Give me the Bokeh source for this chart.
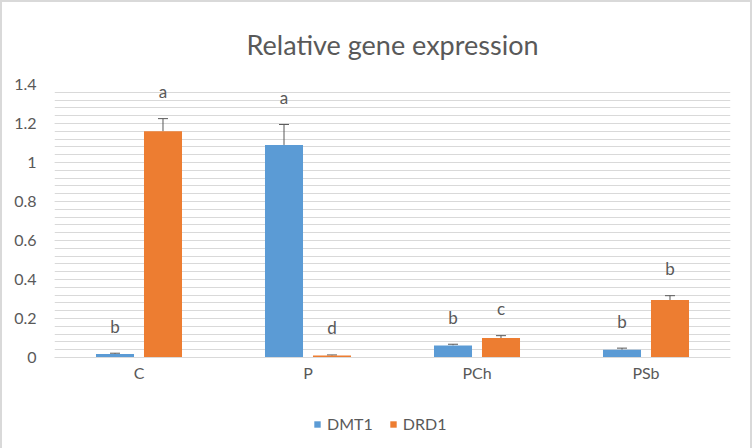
from bokeh.plotting import figure
from bokeh.layouts import column
from bokeh.models import (FactorRange, Whisker, ColumnDataSource, LabelSet,
                          Legend, LegendItem, FixedTicker, NumeralTickFormatter, Range1d)
from bokeh.transform import dodge
from bokeh.core.properties import value
from bokeh.embed import file_html
from bokeh.resources import INLINE

categories = ["C", "P", "PCh", "PSb"]
dmt1 = [0.018, 1.09, 0.062, 0.040]
dmt1_err = [0.004, 0.105, 0.006, 0.008]
dmt1_letters = ["b", "a", "b", "b"]
drd1 = [1.16, 0.010, 0.100, 0.295]
drd1_err = [0.065, 0.003, 0.012, 0.022]
drd1_letters = ["a", "d", "c", "b"]
y_ticks = [0, 0.2, 0.4, 0.6, 0.8, 1.0, 1.2, 1.4]
y_minor = [round(i * 0.04, 2) for i in range(36)]

FONT = "Lato"
GRAY = "#595959"
GRID = "#d9d9d9"
BLUE = "#5B9BD5"
ORANGE = "#ED7D31"

src = ColumnDataSource(dict(
    cat=categories,
    dmt1=dmt1, dmt1_top=[v + e for v, e in zip(dmt1, dmt1_err)], dmt1_lab=dmt1_letters,
    drd1=drd1, drd1_top=[v + e for v, e in zip(drd1, drd1_err)], drd1_lab=drd1_letters,
))

p = figure(frame_width=676, frame_height=273, x_range=FactorRange(*categories),
           y_range=Range1d(0, 1.4), output_backend="svg", toolbar_location=None,
           title="Relative gene expression",
           min_border_left=52, min_border_right=20, min_border_top=71, min_border_bottom=28)
p.outline_line_color = None
p.background_fill_color = "white"
p.border_fill_color = "white"
p.title.align = "center"
p.title.offset = -16
p.title.text_font = FONT
p.title.text_font_size = "27px"
p.title.text_font_style = "normal"
p.title.text_color = GRAY
p.title.standoff = 47

off = 0.142
bw = 0.225
p.vbar(x=dodge("cat", -off, range=p.x_range), top="dmt1", width=bw, source=src,
       fill_color=BLUE, line_color=None)
p.vbar(x=dodge("cat", off, range=p.x_range), top="drd1", width=bw, source=src,
       fill_color=ORANGE, line_color=None)

for key, o in (("dmt1", -off), ("drd1", off)):
    w = Whisker(base=dodge("cat", o, range=p.x_range), lower=key, upper=key + "_top",
                source=src, dimension="height", line_color=GRAY, line_width=1)
    w.lower_head = None
    w.upper_head.line_color = GRAY
    w.upper_head.size = 10
    p.add_layout(w)
    ls = LabelSet(x=dodge("cat", o, range=p.x_range), y=key + "_top", text=key + "_lab",
                  source=src, y_offset=27, text_align="center", text_baseline="middle",
                  text_font=value(FONT), text_font_size="17px", text_color=GRAY)
    p.add_layout(ls)

p.yaxis.ticker = FixedTicker(ticks=y_ticks, minor_ticks=y_minor)
p.yaxis.formatter = NumeralTickFormatter(format="0.[0]")
p.yaxis.axis_line_color = None
p.yaxis.major_tick_line_color = None
p.yaxis.minor_tick_line_color = None
p.yaxis.major_tick_out = 0
p.yaxis.major_label_standoff = 14
p.ygrid.grid_line_color = GRID
p.ygrid.minor_grid_line_color = GRID
p.xgrid.grid_line_color = None

p.xaxis.axis_line_color = GRID
p.xaxis.major_tick_line_color = None
p.xaxis.minor_tick_line_color = None
p.xaxis.major_tick_out = 0
p.xaxis.major_label_standoff = 5
for ax in (p.xaxis, p.yaxis):
    ax.major_label_text_font = FONT
    ax.major_label_text_font_size = "16px"
    ax.major_label_text_color = GRAY

# legend strip below the chart (bars of this strip lie outside its visible range)
lg = figure(frame_width=748, frame_height=68, x_range=FactorRange(*categories),
            y_range=Range1d(10, 11), output_backend="svg", toolbar_location=None,
            x_axis_type=None, y_axis_type=None,
            min_border_left=0, min_border_right=0, min_border_top=0, min_border_bottom=0)
lg.outline_line_color = None
lg.grid.visible = False
l1 = lg.vbar(x=dodge("cat", -off, range=lg.x_range), top="dmt1", width=bw, source=src,
             fill_color=BLUE, line_color=None)
l2 = lg.vbar(x=dodge("cat", off, range=lg.x_range), top="drd1", width=bw, source=src,
             fill_color=ORANGE, line_color=None)
legend = Legend(items=[LegendItem(label="DMT1", renderers=[l1]),
                       LegendItem(label="DRD1", renderers=[l2])],
                orientation="horizontal", location=(311, 20), border_line_color=None,
                background_fill_alpha=0,
                glyph_width=8, glyph_height=8, label_text_font=FONT,
                label_text_font_size="16px", label_text_color=GRAY, spacing=16,
                margin=0, padding=2, label_standoff=6)
lg.add_layout(legend)

layout = column(p, lg, spacing=0)
layout.styles = {"border": "2px solid #d9d9d9", "background-color": "white"}

open("out.html", "w").write(file_html(layout, INLINE))
